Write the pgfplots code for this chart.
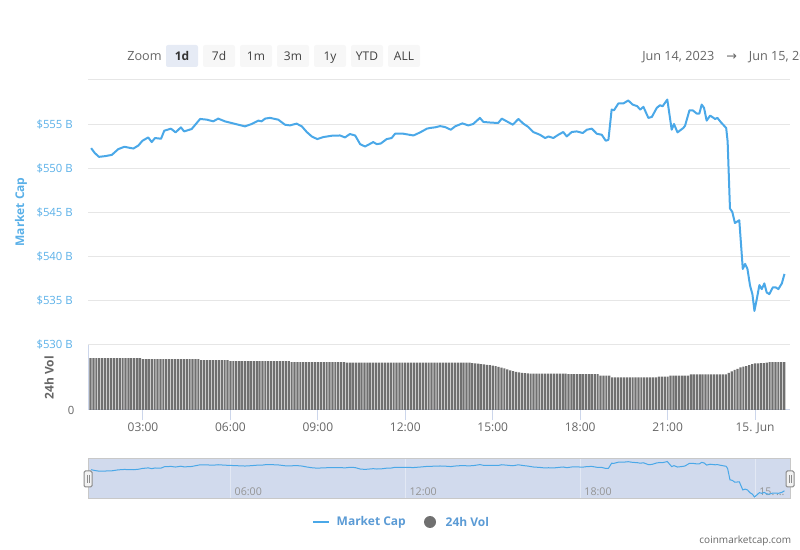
\documentclass[border=0pt]{standalone}
\usepackage{pgfplots}
\pgfplotsset{compat=1.18}
\usepackage{pgfplotstable}
\usepackage{fontspec}
\setmainfont{Open Sans}
\newfontfamily\dejavu{DejaVu Sans}

\definecolor{mcline}{HTML}{4AA8E8}
\definecolor{mclab}{HTML}{5AB0E8}
\definecolor{gridc}{HTML}{E6E6E6}
\definecolor{axisc}{HTML}{CCD6EB}
\definecolor{barc}{HTML}{707070}
\definecolor{labc}{HTML}{666666}
\definecolor{navfill}{HTML}{D1DAED}
\definecolor{navgrid}{HTML}{E2E8F4}
\definecolor{navborder}{HTML}{C8C8C8}
\definecolor{legc}{HTML}{5B9BD5}
\definecolor{btnsel}{HTML}{E6EBF5}
\definecolor{btn}{HTML}{F7F7F7}

% market cap, hours since Jun 14 00:00 vs $ billion
\pgfplotstableread{
h v
1.22 552.29
1.35 551.72
1.49 551.30
1.70 551.38
1.93 551.52
2.15 552.17
2.36 552.44
2.67 552.24
2.84 552.58
2.98 553.12
3.18 553.50
3.30 552.97
3.41 553.43
3.62 553.35
3.73 554.26
3.96 554.49
4.12 554.07
4.30 554.64
4.41 554.18
4.67 554.45
4.96 555.59
5.19 555.51
5.41 555.32
5.58 555.63
5.81 555.32
6.04 555.13
6.27 554.94
6.50 554.75
6.73 555.02
6.96 555.40
7.07 555.32
7.19 555.63
7.36 555.71
7.64 555.51
7.87 554.94
8.04 554.86
8.27 555.06
8.45 554.75
8.62 554.11
8.79 553.61
8.98 553.31
9.19 553.54
9.48 553.69
9.76 553.72
9.93 553.50
10.10 553.88
10.28 553.72
10.45 552.74
10.62 552.47
10.90 552.97
11.02 552.74
11.16 552.81
11.36 553.31
11.53 553.43
11.65 553.92
11.93 553.92
12.28 553.72
12.51 554.07
12.74 554.49
12.85 554.57
13.02 554.64
13.19 554.78
13.36 554.68
13.56 554.37
13.71 554.75
13.96 555.09
14.16 554.86
14.33 555.02
14.56 555.71
14.68 555.25
14.97 555.17
15.19 555.14
15.31 555.63
15.42 555.43
15.69 554.94
15.88 555.59
16.05 555.06
16.22 554.68
16.39 554.11
16.62 553.80
16.80 553.43
16.91 553.61
17.08 553.43
17.25 553.80
17.42 554.11
17.54 553.61
17.71 554.11
17.88 554.18
18.09 554.00
18.23 554.37
18.40 554.49
18.57 553.92
18.74 553.80
18.88 553.12
18.97 553.23
19.08 556.65
19.16 556.57
19.31 557.34
19.48 557.34
19.65 557.68
19.80 557.22
19.96 557.03
20.06 556.65
20.17 556.96
20.34 555.71
20.46 555.82
20.63 556.85
20.74 557.14
20.83 557.03
20.99 557.79
21.14 554.37
21.22 555.02
21.34 554.07
21.54 554.57
21.60 554.83
21.75 556.57
21.86 556.57
22.00 556.20
22.09 556.20
22.17 557.22
22.25 556.85
22.34 555.40
22.46 555.97
22.63 555.59
22.71 555.71
22.82 555.25
23.01 554.57
23.06 553.04
23.14 545.45
23.22 545.06
23.31 543.81
23.46 544.12
23.58 538.61
23.66 539.18
23.74 538.61
23.83 536.71
23.91 535.76
23.98 533.86
24.06 535.19
24.15 536.79
24.23 536.33
24.32 536.97
24.40 535.95
24.49 535.76
24.61 536.52
24.71 536.52
24.80 536.33
24.92 536.97
25.01 538.04
}\mcap

% 24h volume (relative bar height)
\pgfplotstableread[row sep=\\]{
h v\\
1.2 52\\ 1.3 52\\ 1.4 52\\ 1.5 52\\ 1.6 52\\ 1.7 52\\ 1.8 52\\ 1.9 52\\ 2.0 52\\ 2.1 52\\
2.2 52\\ 2.3 52\\ 2.4 52\\ 2.5 52\\ 2.6 52\\ 2.7 52\\ 2.8 52\\ 2.9 52\\ 3.0 51\\ 3.1 51\\
3.2 51\\ 3.3 51\\ 3.4 51\\ 3.5 51\\ 3.6 51\\ 3.7 51\\ 3.8 51\\ 3.9 51\\ 4.0 51\\ 4.1 51\\
4.2 51\\ 4.3 51\\ 4.4 51\\ 4.5 51\\ 4.6 51\\ 4.7 51\\ 4.8 51\\ 4.9 51\\ 5.0 50\\ 5.1 50\\
5.2 50\\ 5.3 50\\ 5.4 50\\ 5.5 50\\ 5.6 50\\ 5.7 50\\ 5.8 50\\ 5.9 50\\ 6.0 49\\ 6.1 49\\
6.2 49\\ 6.3 49\\ 6.4 49\\ 6.5 49\\ 6.6 49\\ 6.7 49\\ 6.8 49\\ 6.9 49\\ 7.0 49\\ 7.1 49\\
7.2 49\\ 7.3 49\\ 7.4 49\\ 7.5 49\\ 7.6 49\\ 7.7 49\\ 7.8 49\\ 7.9 49\\ 8.0 49\\ 8.1 48\\
8.2 48\\ 8.3 48\\ 8.4 48\\ 8.5 48\\ 8.6 48\\ 8.7 48\\ 8.8 48\\ 8.9 48\\ 9.0 48\\ 9.1 48\\
9.2 48\\ 9.3 48\\ 9.4 48\\ 9.5 48\\ 9.6 48\\ 9.7 48\\ 9.8 48\\ 9.9 48\\ 10.0 47.5\\ 10.1 47.5\\
10.2 47.5\\ 10.3 47.5\\ 10.4 47.5\\ 10.5 47.5\\ 10.6 47.5\\ 10.7 47.5\\ 10.8 47.5\\ 10.9 47.5\\ 11.0 47.5\\ 11.1 47.5\\
11.2 47.5\\ 11.3 47.5\\ 11.4 47.5\\ 11.5 47.5\\ 11.6 47.5\\ 11.7 47.5\\ 11.8 47.5\\ 11.9 47.5\\ 12.0 47.5\\ 12.1 47.5\\
12.2 47.5\\ 12.3 47.5\\ 12.4 47.5\\ 12.5 47.5\\ 12.6 47.5\\ 12.7 47.5\\ 12.8 47.5\\ 12.9 47.5\\ 13.0 47.5\\ 13.1 47.5\\
13.2 47.5\\ 13.3 47.5\\ 13.4 47.5\\ 13.5 47.5\\ 13.6 47.5\\ 13.7 47.5\\ 13.8 47.5\\ 13.9 47.5\\ 14.0 47.5\\ 14.1 47.5\\
14.2 47.3\\ 14.3 47.0\\ 14.4 46.7\\ 14.5 46.4\\ 14.6 46.0\\ 14.7 45.6\\ 14.8 45.2\\ 14.9 44.8\\ 15.0 44.3\\ 15.1 43.8\\
15.2 43.2\\ 15.3 42.4\\ 15.4 41.5\\ 15.5 40.5\\ 15.6 39.6\\ 15.7 38.8\\ 15.8 38.2\\ 15.9 37.6\\ 16.0 37.2\\ 16.1 36.9\\
16.2 36.7\\ 16.3 36.3\\ 16.4 36.3\\ 16.5 36.3\\ 16.6 36.3\\ 16.7 36.3\\ 16.8 36.3\\ 16.9 36.3\\ 17.0 36.3\\ 17.1 36.3\\
17.2 36.3\\ 17.3 36.3\\ 17.4 36.3\\ 17.5 36.3\\ 17.6 35.8\\ 17.7 35.8\\ 17.8 35.8\\ 17.9 35.8\\ 18.0 35.8\\ 18.1 35.8\\
18.2 35.8\\ 18.3 35.8\\ 18.4 35.8\\ 18.5 35.8\\ 18.6 35.8\\ 18.7 34.3\\ 18.8 34.3\\ 18.9 34.3\\ 19.0 34.3\\ 19.1 32.5\\
19.2 32.5\\ 19.3 32.5\\ 19.4 32.5\\ 19.5 32.5\\ 19.6 32.5\\ 19.7 32.5\\ 19.8 32.5\\ 19.9 32.5\\ 20.0 32.5\\ 20.1 32.5\\
20.2 32.5\\ 20.3 32.5\\ 20.4 32.5\\ 20.5 32.5\\ 20.6 32.5\\ 20.7 33.3\\ 20.8 33.3\\ 20.9 33.3\\ 21.0 33.3\\ 21.1 34.3\\
21.2 34.3\\ 21.3 34.3\\ 21.4 34.3\\ 21.5 34.3\\ 21.6 34.3\\ 21.7 34.3\\ 21.8 35.7\\ 21.9 35.7\\ 22.0 35.7\\ 22.1 35.7\\
22.2 35.7\\ 22.3 35.7\\ 22.4 35.7\\ 22.5 35.7\\ 22.6 35.7\\ 22.7 35.7\\ 22.8 35.7\\ 22.9 35.7\\ 23.0 35.7\\ 23.1 37.0\\
23.2 38.5\\ 23.3 40.0\\ 23.4 41.0\\ 23.5 42.5\\ 23.6 43.3\\ 23.7 44.0\\ 23.8 45.0\\ 23.9 46.0\\ 24.0 46.7\\ 24.1 46.7\\
24.2 47.0\\ 24.3 47.0\\ 24.4 47.3\\ 24.5 48.0\\ 24.6 48.0\\ 24.7 48.0\\ 24.8 48.0\\ 24.9 48.0\\ 25.0 48.0\\
}\vol

\begin{document}
\begin{tikzpicture}
\path[use as bounding box] (0,0) rectangle (600pt,412.5pt);
\clip (0,0) rectangle (600pt,412.5pt);

% price pane
\begin{axis}[
    at={(66pt,153.75pt)}, anchor=south west,
    scale only axis, width=526.5pt, height=198.75pt,
    xmin=1.113, xmax=25.2, ymin=530, ymax=560,
    axis line style={draw=none},
    xtick=\empty,
    ytick={530,535,540,545,550,555,560},
    yticklabels={\$530 B,\$535 B,\$540 B,\$545 B,\$550 B,\$555 B,{}},
    ymajorgrids,
    major grid style={gridc, line width=0.75pt},
    major tick length=0pt,
    yticklabel style={font=\fontsize{8.5}{10}\selectfont, text=mclab,
        anchor=east, inner sep=0pt, xshift=-11.25pt},
]
\addplot[mcline, line width=1.5pt, line join=round] table {\mcap};
\end{axis}

% volume pane
\begin{axis}[
    at={(66pt,105pt)}, anchor=south west,
    scale only axis, width=526.5pt, height=48.75pt,
    xmin=1.113, xmax=25.2, ymin=0, ymax=65,
    axis x line*=bottom, axis y line*=left,
    axis line style={axisc, line width=0.75pt, -},
    xtick={3,6,9,12,15,18,21,24},
    xticklabels={03:00,06:00,09:00,12:00,15:00,18:00,21:00,15. Jun},
    xtick align=outside,
    xtick style={axisc, line width=0.75pt},
    major tick length=7.5pt,
    xticklabel style={font=\fontsize{9}{11}\selectfont, text=labc, inner sep=0pt, yshift=-2pt},
    ytick={0}, yticklabels={0},
    ytick style={draw=none},
    yticklabel style={font=\fontsize{8.5}{10}\selectfont, text=labc,
        anchor=east, inner sep=0pt, xshift=-10pt},
]
\addplot[ybar, bar width=0.075, fill=barc, draw=none] table {\vol};
\end{axis}

% navigator
\begin{axis}[
    at={(66pt,38.25pt)}, anchor=south west,
    scale only axis, width=526.5pt, height=30pt,
    xmin=1.113, xmax=25.2, ymin=532.5, ymax=559.5,
    axis background/.style={fill=navfill},
    axis line style={navborder, line width=0.75pt},
    xtick={6,12,18,24},
    xticklabels={06:00,12:00,18:00,{15.\,\ldots}},
    xmajorgrids,
    major grid style={navgrid, line width=0.75pt},
    ytick=\empty,
    major tick length=0pt,
    xticklabel style={font=\fontsize{8}{10}\selectfont, text=labc!70,
        anchor=south west, inner sep=0pt, xshift=3pt, yshift=2.5pt},
]
\addplot[mcline, line width=0.75pt] table {\mcap};
\end{axis}

\begin{scope}[x=0.75pt, y=-0.75pt, shift={(0pt,412.5pt)}]
  % range selector
  \node[anchor=base west, inner sep=0pt, text=labc, font=\fontsize{9.5}{11}\selectfont] at (127,61) {Zoom};
  \fill[btnsel, rounded corners=1.5pt] (166,45) rectangle (198,67);
  \node[anchor=base, inner sep=0pt, font=\bfseries\fontsize{9}{11}\selectfont, text=black!80] at (182,60.5) {1d};
  \foreach \a/\b/\t in {203/235/7d, 240/272/1m, 277/309/3m, 314/346/1y, 351/383/YTD, 388/420/ALL}{
    \fill[btn, rounded corners=1.5pt] (\a,45) rectangle (\b,67);
    \node[anchor=base, inner sep=0pt, font=\fontsize{9}{11}\selectfont, text=black!75] at ({(\a+\b)/2},60.5) {\t};
  }
  \node[anchor=base west, inner sep=0pt, text=labc, font=\fontsize{9.5}{11}\selectfont] at (642,60.5)
    {Jun 14, 2023\hspace{9pt}{\dejavu →}\hspace{9pt}Jun 15, 2023};
  % axis titles
  \node[rotate=90, text=mclab, font=\bfseries\fontsize{9}{11}\selectfont] at (21,212) {Market Cap};
  \node[rotate=90, text=labc, font=\bfseries\fontsize{9}{11}\selectfont] at (49,378) {24h Vol};
  % navigator handles
  \foreach \hx in {88,790}{
    \filldraw[fill=black!5, draw=black!45, line width=0.75pt, rounded corners=1pt] (\hx-4,471) rectangle (\hx+4,487);
    \draw[black!45, line width=0.75pt] (\hx-1,475) -- (\hx-1,483) (\hx+1,475) -- (\hx+1,483);
  }
  % legend
  \draw[mcline, line width=1.5pt] (313,522) -- (329,522);
  \node[anchor=west, text=legc, font=\bfseries\fontsize{9}{11}\selectfont] at (332,522) {Market Cap};
  \fill[barc] (430,522) circle (6);
  \node[anchor=west, text=legc, font=\bfseries\fontsize{9}{11}\selectfont] at (441,522) {24h Vol};
  % credit
  \node[anchor=east, text=labc, font=\fontsize{7.5}{9}\selectfont] at (796,541) {coinmarketcap.com};
\end{scope}
\end{tikzpicture}
\end{document}
